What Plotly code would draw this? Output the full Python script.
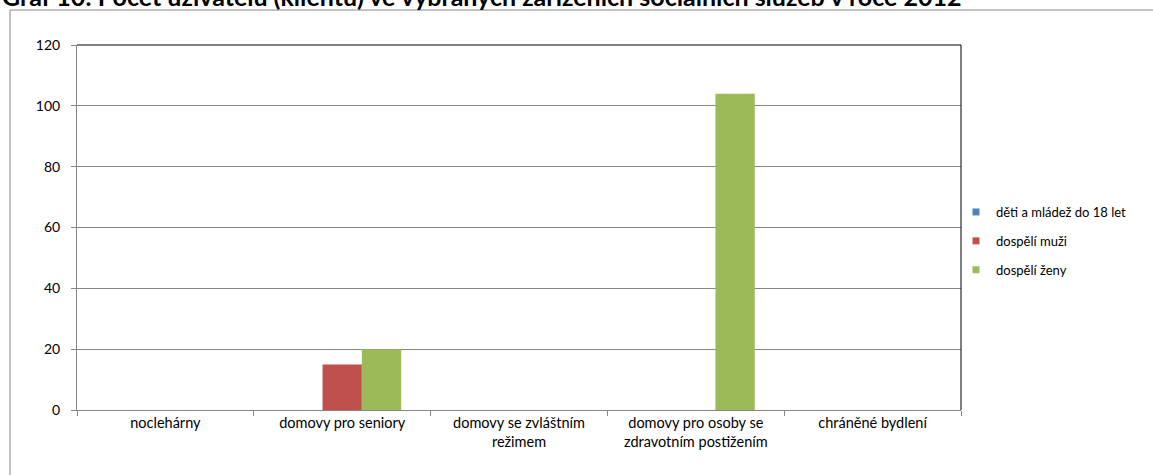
import plotly.graph_objects as go

categories = ["noclehárny", "domovy pro seniory", "domovy se zvláštním<br>režimem",
              "domovy pro osoby se<br>zdravotním postižením", "chráněné bydlení"]
series_names = ["děti a mládež do 18 let", "dospělí muži", "dospělí ženy"]
deti = [0, 0, 0, 0, 0]
muzi = [0, 15, 0, 0, 0]
zeny = [0, 20, 0, 104, 0]
colors = ["#4F81BD", "#C0504D", "#9BBB59"]
y_ticks = [0, 20, 40, 60, 80, 100, 120]
title_text = "Graf 10: Počet uživatelů (klientů) ve vybraných zařízeních sociálních služeb v roce 2012"

FONT = "Lato"

fig = go.Figure()
for i, (name, vals) in enumerate(zip(series_names, [deti, muzi, zeny])):
    fig.add_trace(go.Bar(
        x=categories, y=vals, name=name, marker_color=colors[i],
        marker_line_width=0, showlegend=False,
    ))
# legend entries (small square symbols like the original)
for i, name in enumerate(series_names):
    fig.add_trace(go.Scatter(
        x=[None], y=[None], mode="markers", name=name, legendgroup=name,
        marker=dict(symbol="square", size=7, color=colors[i]),
    ))

L, R, T, B = 77, 192, 45, 65
W, H = 1153, 475
pw = W - L - R
ph = H - T - B

fig.update_layout(
    width=W, height=H,
    margin=dict(l=L, r=R, t=T, b=B, pad=0),
    paper_bgcolor="white", plot_bgcolor="white",
    barmode="group", bargap=0.333, bargroupgap=0,
    font=dict(family=FONT, size=14, color="#000000"),
    showlegend=True,
    legend=dict(x=(956 - L) / pw, y=(410 - 241) / ph, xanchor="left", yanchor="middle",
                font=dict(size=13, family=FONT, color="#000000"),
                tracegroupgap=9, itemwidth=30, bgcolor="rgba(0,0,0,0)"),
    xaxis=dict(type="category", tickson="boundaries", ticks="outside", ticklen=5,
               tickcolor="#868686", showline=True, linecolor="#868686", linewidth=1,
               showgrid=False, tickfont=dict(size=14.5)),
    yaxis=dict(range=[0, 120], tickvals=y_ticks, ticks="outside", ticklen=5,
               tickcolor="#868686", showline=True, linecolor="#868686", linewidth=1,
               showgrid=True, gridcolor="#868686", gridwidth=1, zeroline=False,
               tickfont=dict(size=14), ticklabelstandoff=8),
    shapes=[
        dict(type="rect", xref="paper", yref="paper",
             x0=(10 - L) / pw, x1=(1160 - L) / pw, y0=-(490 - 410) / ph, y1=(410 - 10) / ph,
             line=dict(color="#868686", width=1), layer="below"),
        dict(type="line", xref="paper", yref="paper", x0=0, x1=1, y0=1, y1=1,
             line=dict(color="#000000", width=1)),
        dict(type="line", xref="paper", yref="paper", x0=1, x1=1, y0=0, y1=1,
             line=dict(color="#000000", width=1)),
    ],
    annotations=[
        dict(text="<b>" + title_text + "</b>", xref="paper", yref="paper",
             x=(0 - L) / pw, y=(410 - 13) / ph, xanchor="left", yanchor="bottom",
             showarrow=False, font=dict(family=FONT, size=25, color="#000000")),
    ],
)

fig.write_html("out.html", config={"displayModeBar": False},
               post_script="document.body.style.margin='0';")
